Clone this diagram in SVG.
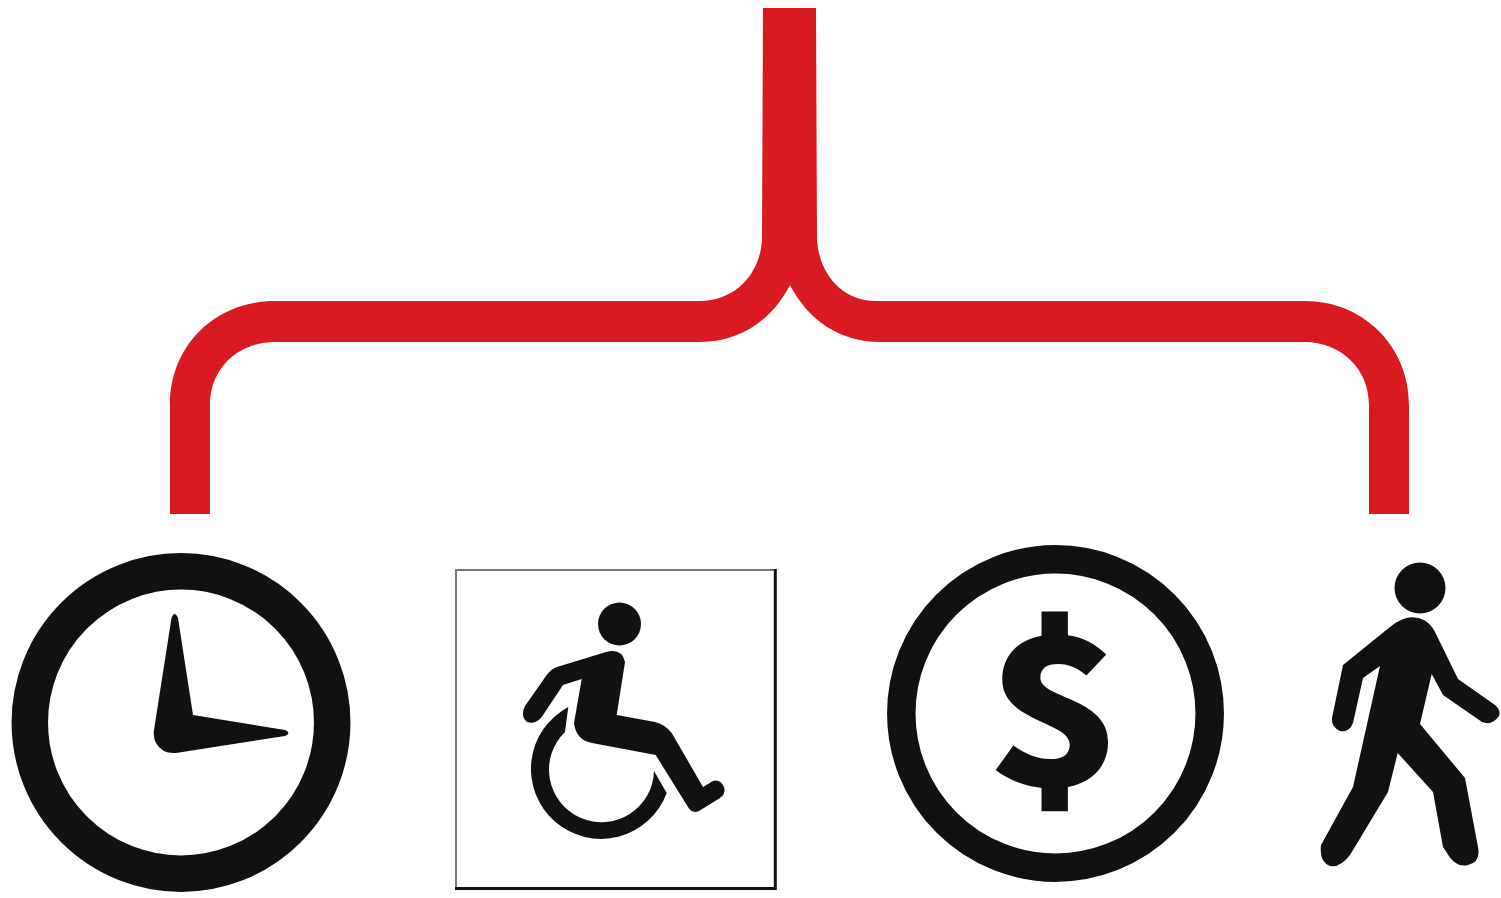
<svg xmlns="http://www.w3.org/2000/svg" width="1501" height="898" viewBox="0 0 1501 898">
<style>
.ink{fill:#11110f}
.ring{fill:none;stroke:#11110f}
.bracket{fill:#d91a21}
</style>
<rect width="1501" height="898" fill="#fff"/>
<g id="connectors">
<path class="bracket" d="M763 8H816L817 240C820 278 845 301 876 301H1305C1362 301 1409 345 1409 405V514H1369V405C1369 368 1340 342 1305 342H880C840 342 808 320 790 285C772 320 740 342 700 342H275C238 342 210 368 210 405V514H170V405C170 345 216 301 275 301H700C735 301 760 274 762 240Z"/>
</g>
<g id="clock">
<circle class="ring" cx="181" cy="722.500" r="151.200" stroke-width="36.500"/>
<path class="ink" d="M171.500 618Q174.500 610 178 618L193 715L285 730Q292 733 285 736L176 753Q162 754 156 743Q153 738 154 730Z"/>
</g>
<g id="wheelchair">
<path d="M456 570H775V888H456Z" fill="#fff" stroke="#777" stroke-width="2"/>
<path d="M775.300 569V888.500H455" fill="none" stroke="#11110f" stroke-width="3"/>
<circle class="ink" cx="619.500" cy="624" r="21.500"/>
<path class="ink" d="M606 652Q622 648 625 662L616.700 715L655 722Q666 725 671.700 733L703 787L713 781Q720 779 724 787Q726 794 720 798L699 811Q692 814 688 807L655.700 755L592 743Q576 740 574 723L581.700 679L563 685L541.700 717Q535 725 527 722Q520 716 525 706L546.700 675Q551 669 557 667Z"/>
<path class="ink" d="M568.300 707L565 732A52.500 52.500 0 1 0 654 771L666.700 793A70 70 0 1 1 568.300 707Z"/>
</g>
<g id="cost">
<circle class="ring" cx="1055.500" cy="713.500" r="154.200" stroke-width="28.500"/>
<text transform="translate(1055 786.300) scale(1.1 1)" text-anchor="middle" font-family="'Noto Sans CJK SC', sans-serif" font-weight="900" font-size="205" fill="#11110f">$</text>
</g>
<g id="walker">
<circle class="ink" cx="1420" cy="588" r="25.500"/>
<path class="ink" d="M1390 627Q1408 612 1424 620Q1431 624 1435 632L1458 679L1495 705Q1501 710 1499 716Q1492 726 1482 722L1443 695L1431.700 674L1420 724L1465 778L1478 847Q1481 862 1468 865Q1455 868 1447 853L1443 847L1433 792L1397.700 753L1388 792L1350 855Q1340 868 1330 866Q1319 862 1321 845L1353 787L1380 666L1363 678L1353 723Q1349 733 1340 731Q1331 727 1332 718L1343 665Z"/>
</g>
</svg>
